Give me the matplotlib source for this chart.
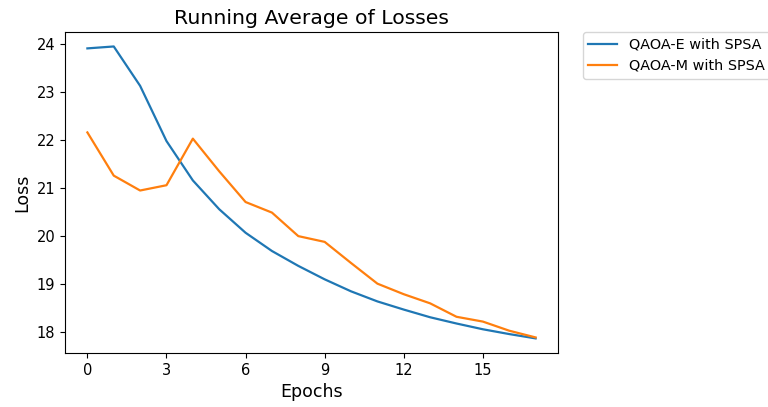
import numpy as np
import matplotlib.pyplot as plt

epochs = np.arange(18)

# running average of losses
qaoa_e = [23.91, 23.95, 23.13, 21.98, 21.16, 20.56, 20.07, 19.69, 19.38, 19.10,
          18.85, 18.64, 18.47, 18.31, 18.18, 18.06, 17.96, 17.87]
qaoa_m = [22.16, 21.26, 20.95, 21.06, 22.03, 21.35, 20.71, 20.49, 20.00, 19.88,
          19.44, 19.01, 18.79, 18.60, 18.32, 18.22, 18.03, 17.89]

labels = ["QAOA-E with SPSA", "QAOA-M with SPSA"]

plt.rcParams["font.size"] = 10.5

fig = plt.figure(figsize=(7.68, 4.07), dpi=100)
ax = fig.add_axes([0.0846, 0.1327, 0.642, 0.789])

ax.plot(epochs, qaoa_e, label=labels[0], lw=1.6)
ax.plot(epochs, qaoa_m, label=labels[1], lw=1.6)

ax.set_title("Running Average of Losses", fontsize=14.7)
ax.set_xlabel("Epochs", fontsize=12.5)
ax.set_ylabel("Loss", fontsize=12.5)
ax.set_xticks(range(0, 18, 3))

ax.legend(bbox_to_anchor=(1.05, 1), loc="upper left", borderaxespad=0.,
          fontsize=10.4)

fig.savefig("out.png", dpi=100)
